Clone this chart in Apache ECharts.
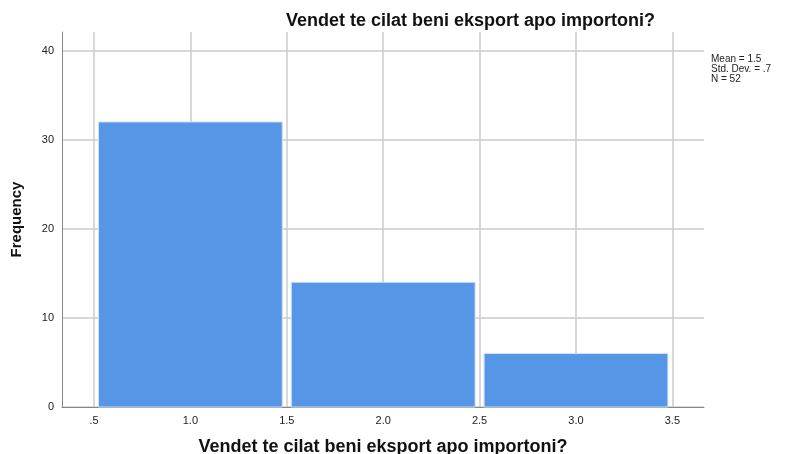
<!DOCTYPE html>
<html>
<head>
<meta charset="utf-8">
<script src="https://cdn.jsdelivr.net/npm/echarts@6/dist/echarts.min.js"></script>
<style>
  html, body { margin: 0; padding: 0; background: #fff; }
  #main { width: 787px; height: 454px; }
</style>
</head>
<body>
<div id="main"></div>
<script>
var binStart = [0.5, 1.5, 2.5];
var binEnd = [1.5, 2.5, 3.5];
var frequency = [32, 14, 6];
var xTicks = [0.5, 1.0, 1.5, 2.0, 2.5, 3.0, 3.5];
var yTicks = [0, 10, 20, 30, 40];
var statsLines = ['Mean = 1.5', 'Std. Dev. = .7', 'N = 52'];

var bins = [];
for (var i = 0; i < frequency.length; i++) {
    bins.push([binStart[i], binEnd[i], frequency[i]]);
}

var font = '"Liberation Sans", Arial, sans-serif';
var myChart = echarts.init(document.getElementById('main'));

var option = {
    animation: false,
    title: {
        text: 'Vendet te cilat beni eksport apo importoni?',
        left: 281,
        top: 7,
        textStyle: { fontFamily: font, fontSize: 18, fontWeight: 'bold', color: '#111' }
    },
    grid: { left: 62, right: 83, top: 32, bottom: 47, outerBoundsMode: 'none' },
    xAxis: {
        type: 'value',
        min: 0.334,
        max: 3.664,
        name: 'Vendet te cilat beni eksport apo importoni?',
        nameLocation: 'middle',
        nameGap: 31,
        nameTextStyle: { fontFamily: font, fontSize: 18, fontWeight: 'bold', color: '#111' },
        axisLine: { show: true, lineStyle: { color: '#888', width: 1 } },
        axisTick: { show: false, customValues: xTicks },
        axisLabel: {
            customValues: xTicks,
            fontFamily: font, fontSize: 11, color: '#222', margin: 8,
            formatter: function (v) { return v === 0.5 ? '.5' : v.toFixed(1); }
        },
        splitLine: { show: true, lineStyle: { color: '#cbcbcb', width: 1.5 } }
    },
    yAxis: {
        type: 'value',
        min: 0,
        max: 42.1,
        name: 'Frequency',
        nameLocation: 'middle',
        nameGap: 38,
        nameTextStyle: { fontFamily: font, fontSize: 15, fontWeight: 'bold', color: '#111' },
        axisLine: { show: true, lineStyle: { color: '#888', width: 1 } },
        axisTick: { show: false, customValues: yTicks },
        axisLabel: { customValues: yTicks, fontFamily: font, fontSize: 11, color: '#222', margin: 8 },
        splitLine: { show: true, lineStyle: { color: '#cbcbcb', width: 1.5 } }
    },
    graphic: [{
        type: 'text',
        left: 711,
        top: 54,
        style: {
            text: statsLines.join('\n'),
            font: '10px ' + font,
            lineHeight: 10,
            fill: '#222'
        }
    }],
    series: [{
        type: 'custom',
        data: bins,
        encode: { x: [0, 1], y: 2 },
        renderItem: function (params, api) {
            var p0 = api.coord([api.value(0), api.value(2)]);
            var p1 = api.coord([api.value(1), 0]);
            var gap = 4.5;
            return {
                type: 'rect',
                shape: { x: p0[0] + gap, y: p0[1], width: p1[0] - p0[0] - 2 * gap, height: p1[1] - p0[1] },
                style: { fill: '#5596e6', stroke: '#cfe0f7', lineWidth: 1 }
            };
        }
    }]
};

myChart.setOption(option);
</script>
</body>
</html>
